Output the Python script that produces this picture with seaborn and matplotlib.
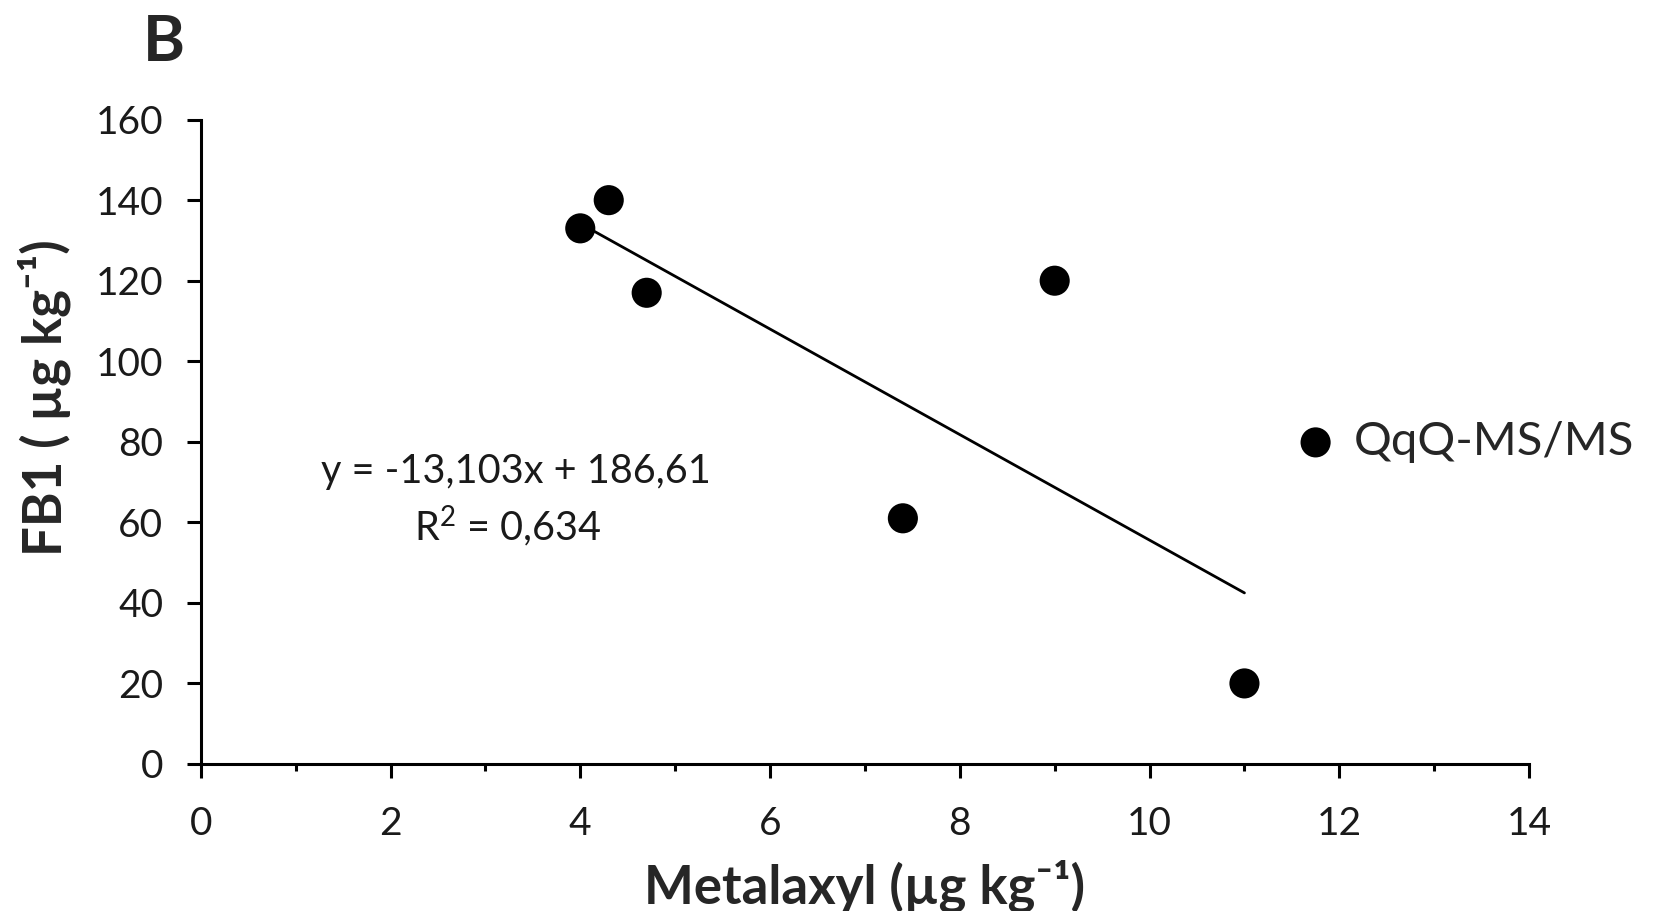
#!/usr/bin/env python3

import pandas as pd
import seaborn as sns
import matplotlib
matplotlib.use('Agg')
import matplotlib.pyplot as plt
from matplotlib.ticker import MultipleLocator

# Values
metalaxyl = [4.0, 4.3, 4.7, 9.0, 7.4, 11.0]
fb1 = [133, 140, 117, 120, 61, 20]
series_label = 'QqQ-MS/MS'

# Linear trend line as printed on the chart
slope = -13.103
intercept = 186.61
r_squared = '0,634'
fit_range = [4.0, 11.0]


def plot_fb1_vs_metalaxyl(plot_filename):

    sns.set_style("ticks")
    plt.rcParams['font.family'] = ['Lato', 'DejaVu Sans']
    plt.rcParams['mathtext.default'] = 'regular'

    dataframe = pd.DataFrame({'metalaxyl': metalaxyl, 'fb1': fb1})
    trend = pd.DataFrame({'x': fit_range})
    trend['y'] = intercept + slope * trend['x']

    fig = plt.figure(figsize=(16.59, 9.11), dpi=100)
    ax = fig.add_axes([0.121, 0.1614, 0.8007, 0.7073])

    sns.lineplot(x='x', y='y', data=trend, ax=ax, color='black',
                 linewidth=2.0, legend=False)
    sns.scatterplot(x='metalaxyl', y='fb1', data=dataframe, ax=ax,
                    color='black', s=470, edgecolor='none',
                    label=series_label, zorder=3, clip_on=False)

    ax.set_xlim(0, 14)
    ax.set_ylim(0, 160)
    ax.xaxis.set_major_locator(MultipleLocator(2))
    ax.xaxis.set_minor_locator(MultipleLocator(1))
    ax.yaxis.set_major_locator(MultipleLocator(20))

    sns.despine(ax=ax)
    for side in ['left', 'bottom']:
        ax.spines[side].set_linewidth(2.2)
        ax.spines[side].set_color('black')
    ax.tick_params(axis='both', which='major', length=10, width=2.2,
                   color='black', labelsize=28)
    ax.tick_params(axis='x', which='major', pad=20)
    ax.tick_params(axis='y', which='major', pad=17)
    ax.tick_params(axis='x', which='minor', length=5, width=2.2,
                   color='black')
    ax.tick_params(axis='y', which='minor', length=0)
    for lbl in ax.get_xticklabels() + ax.get_yticklabels():
        lbl.set_color('#1a1a1a')

    ax.set_xlabel('Metalaxyl (µg kg⁻¹)', fontsize=38, fontweight='bold',
                  va='center')
    ax.set_ylabel('FB1 ( µg kg⁻¹)', fontsize=38, fontweight='bold',
                  va='center')
    ax.xaxis.set_label_coords(0.5, -0.19)
    ax.yaxis.set_label_coords(-0.118, 0.568)

    # Regression equation
    ax.text(3.32, 72.5, 'y = -13,103x + 186,61', fontsize=28.5,
            ha='center', va='center', color='#1a1a1a')
    ax.text(3.24, 59.1, 'R$^2$ = ' + r_squared, fontsize=28.5,
            ha='center', va='center', color='#1a1a1a')

    # Panel letter
    fig.text(0.099, 0.953, 'B', fontsize=46, fontweight='bold',
             ha='center', va='center')

    ax.legend(loc='center left', bbox_to_anchor=(0.8215, 0.5),
              frameon=False, fontsize=34, handlelength=1,
              handletextpad=0.3, borderpad=0, borderaxespad=0,
              markerscale=1)

    plt.savefig(plot_filename, dpi=100)


if __name__ == '__main__':
    plot_fb1_vs_metalaxyl('out.png')
